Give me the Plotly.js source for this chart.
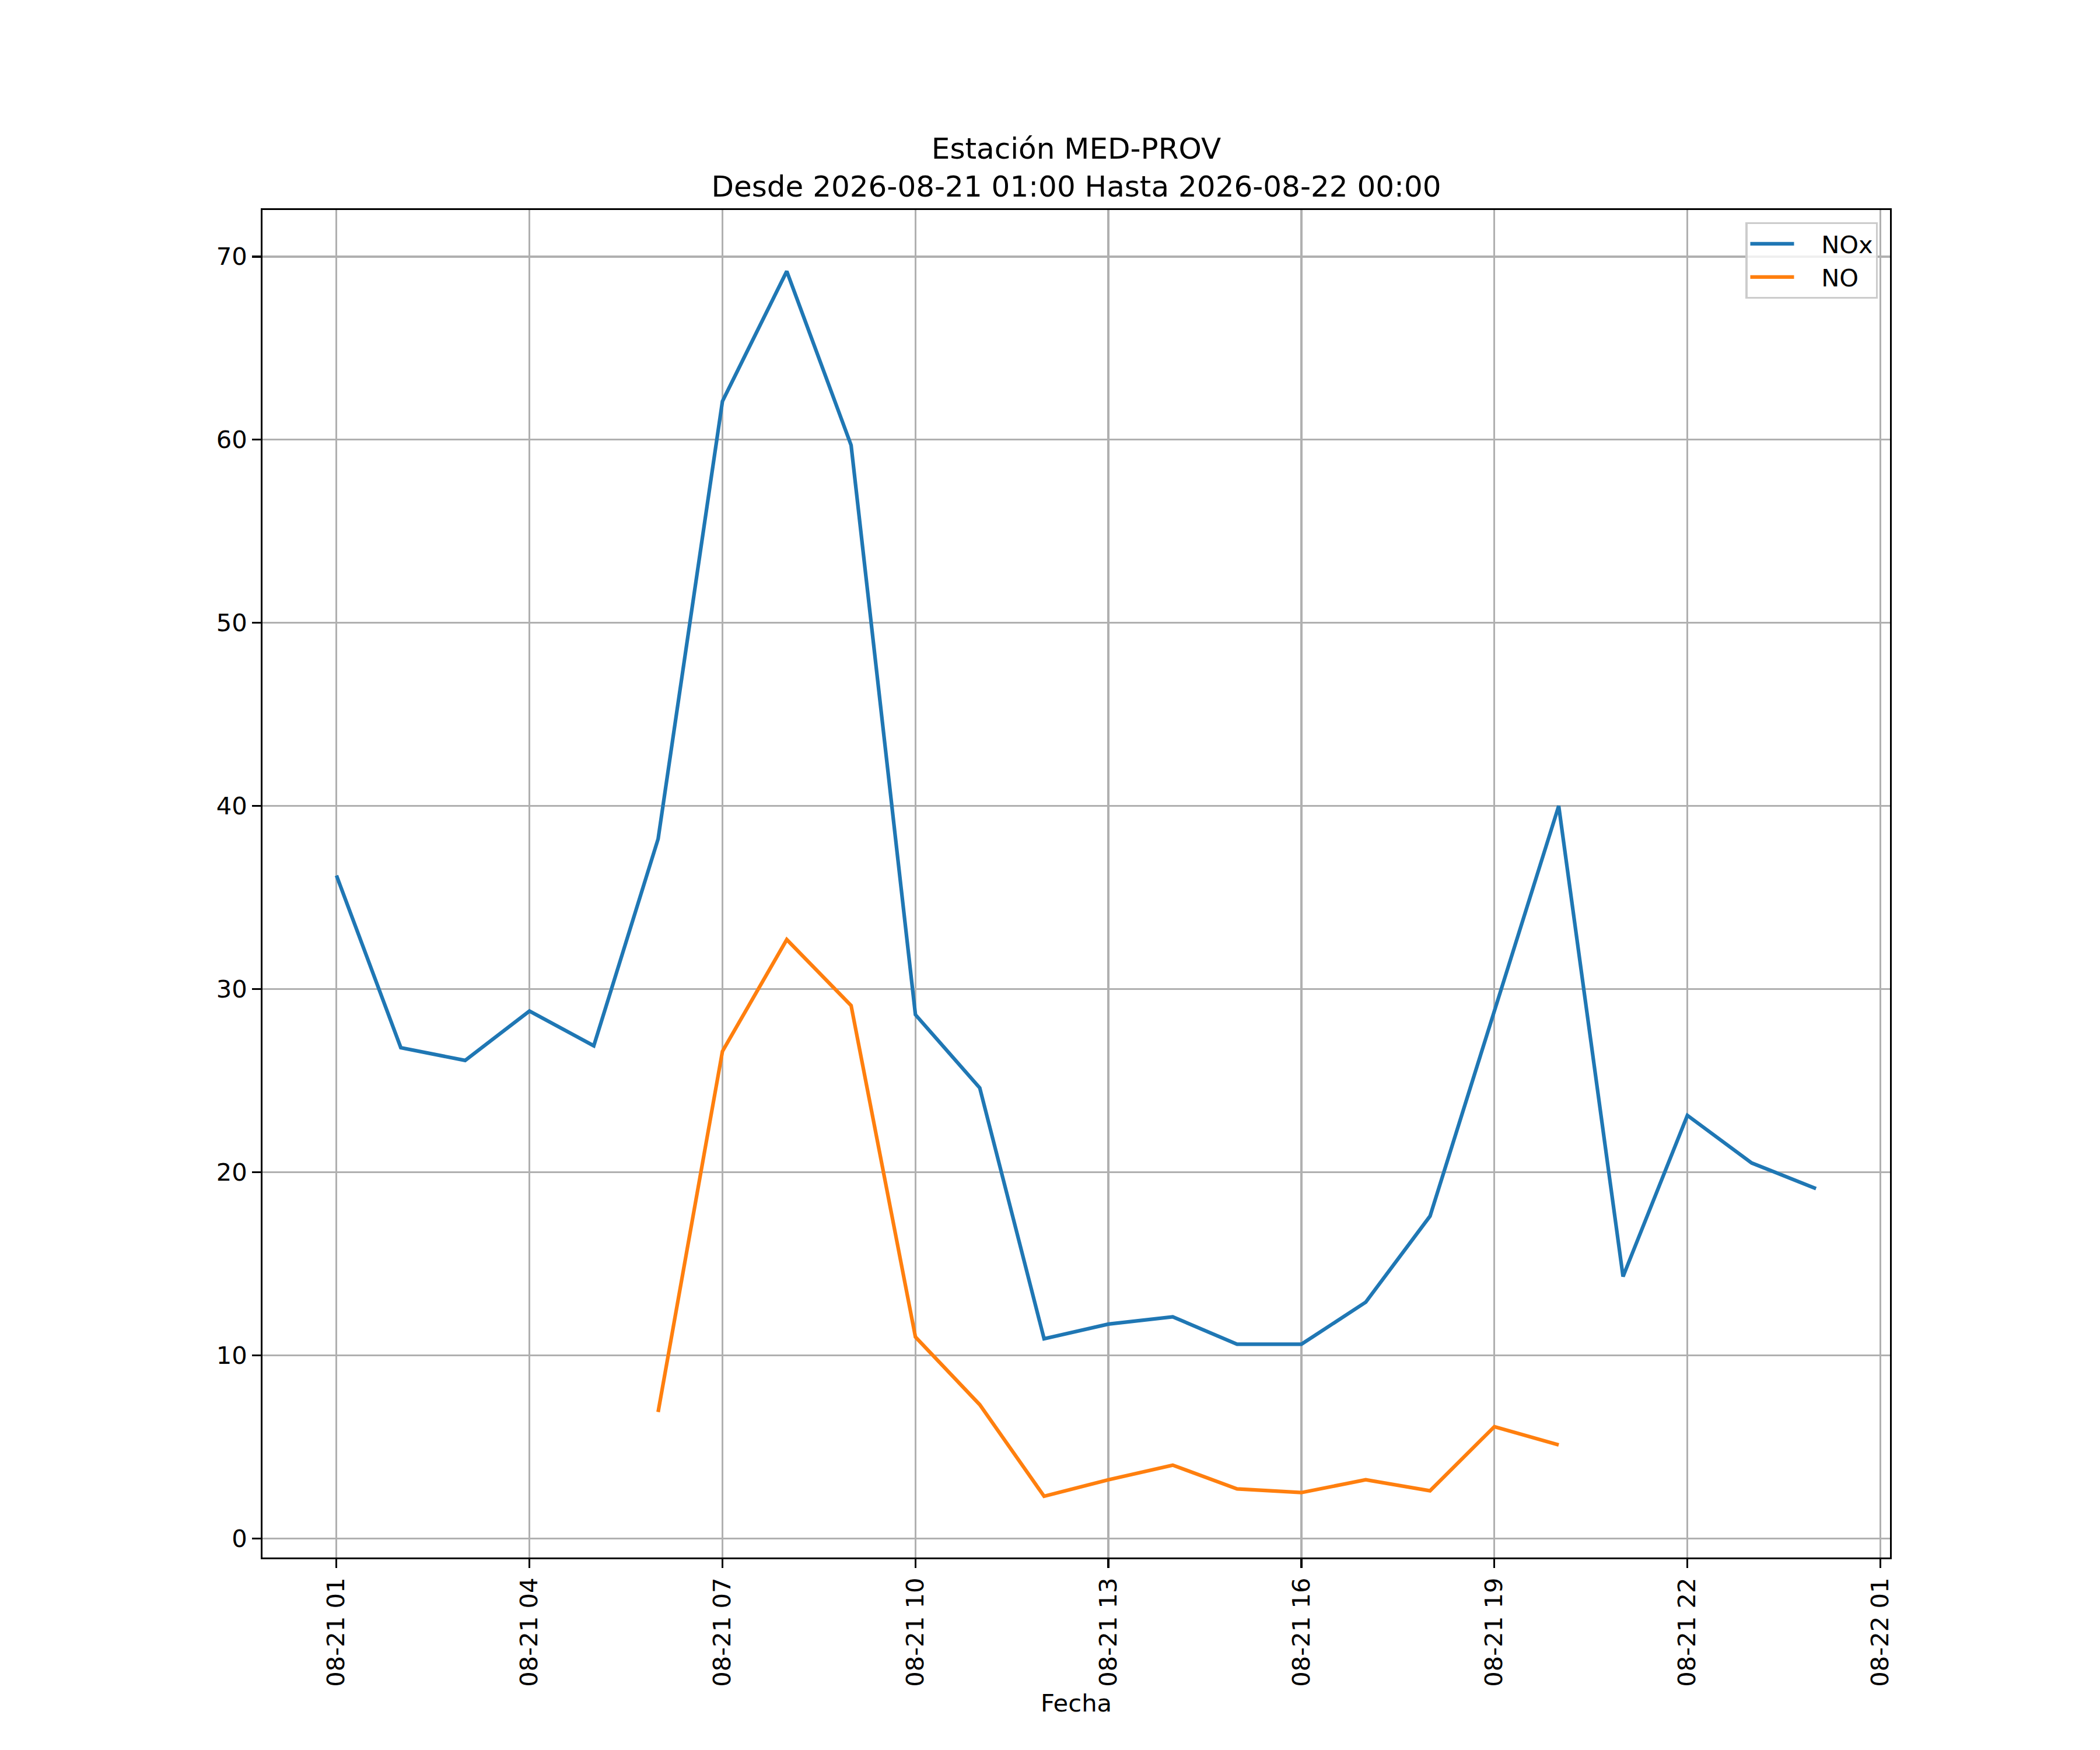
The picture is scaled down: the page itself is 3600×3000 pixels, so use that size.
<!DOCTYPE html>
<html>
<head>
<meta charset="utf-8">
<script src="https://cdn.plot.ly/plotly-3.0.1.min.js"></script>
<style>body{margin:0;padding:0;background:#fff;}</style>
</head>
<body>
<div id="chart" style="width:3600px;height:3000px;"></div>
<script>
var times = [
  "2026-08-21 01:00","2026-08-21 02:00","2026-08-21 03:00","2026-08-21 04:00",
  "2026-08-21 05:00","2026-08-21 06:00","2026-08-21 07:00","2026-08-21 08:00",
  "2026-08-21 09:00","2026-08-21 10:00","2026-08-21 11:00","2026-08-21 12:00",
  "2026-08-21 13:00","2026-08-21 14:00","2026-08-21 15:00","2026-08-21 16:00",
  "2026-08-21 17:00","2026-08-21 18:00","2026-08-21 19:00","2026-08-21 20:00",
  "2026-08-21 21:00","2026-08-21 22:00","2026-08-21 23:00","2026-08-22 00:00"
];
var noxValues = [36.2, 26.8, 26.1, 28.8, 26.9, 38.2, 62.1, 69.2, 59.7, 28.6, 24.6, 10.9,
                 11.7, 12.1, 10.6, 10.6, 12.9, 17.6, 28.8, 40.0, 14.3, 23.1, 20.5, 19.1];
var noValues = [null, null, null, null, null, 6.9, 26.6, 32.7, 29.1, 11.0, 7.3, 2.3,
                3.2, 4.0, 2.7, 2.5, 3.2, 2.6, 6.1, 5.1, null, null, null, null];
var seriesNames = ["NOx", "NO"];
var yTicks = [0, 10, 20, 30, 40, 50, 60, 70];
var titleText = "Estación MED-PROV<br>Desde 2026-08-21 01:00 Hasta 2026-08-22 00:00";
var xLabel = "Fecha";

var PT = 300 / 72;
var font = "DejaVu Sans, sans-serif";

var traces = [
  {x: times, y: noxValues, name: "\u2003" + seriesNames[0], type: "scatter", mode: "lines",
   line: {color: "#1f77b4", width: 1.5 * PT}, connectgaps: false},
  {x: times, y: noValues, name: "\u2003" + seriesNames[1], type: "scatter", mode: "lines",
   line: {color: "#ff7f0e", width: 1.5 * PT}, connectgaps: false}
];

var W = 3600, H = 3000;
var L = 0.125 * W, R = 0.1 * W, T = 0.12 * H, B = 0.11 * H;
var plotW = W - L - R, plotH = H - T - B;

var allVals = noxValues.concat(noValues).filter(function(v){return v !== null;});
var ymin = Math.min.apply(null, allVals), ymax = Math.max.apply(null, allVals);
var ypad = 0.05 * (ymax - ymin);

var t0 = new Date("2026-08-21T01:00:00Z").getTime();
var t1 = new Date("2026-08-22T00:00:00Z").getTime();
var tpad = 0.05 * (t1 - t0);
function fmt(ms){ return new Date(ms).toISOString().replace("T"," ").replace("Z",""); }

var layout = {
  width: W, height: H,
  margin: {l: L, r: R, t: T, b: B, pad: 0},
  paper_bgcolor: "#ffffff", plot_bgcolor: "#ffffff",
  font: {family: font, size: 10 * PT, color: "#000000"},
  showlegend: true,
  title: {
    text: titleText,
    font: {family: font, size: 12 * PT, color: "#000000"},
    x: 0.5, xref: "paper", xanchor: "center",
    y: 1, yref: "paper", yanchor: "bottom",
    pad: {b: 88}
  },
  xaxis: {
    type: "date",
    range: [fmt(t0 - tpad), fmt(t1 + tpad)],
    tick0: "2026-08-21 01:00", dtick: 3 * 3600 * 1000,
    tickformat: "%m-%d %H",
    tickangle: -90,
    ticks: "outside", ticklen: 3.5 * PT, tickwidth: 0.8 * PT, tickcolor: "#000",
    ticklabelstandoff: 3.5 * PT,
    showgrid: true, gridcolor: "#b0b0b0", gridwidth: 0.8 * PT,
    showline: true, linecolor: "#000", linewidth: 0.8 * PT, mirror: true,
    zeroline: false,
    tickfont: {family: font, size: 10 * PT, color: "#000"},
    title: {text: xLabel, font: {family: font, size: 10 * PT, color: "#000"}, standoff: 3.5 * PT},
    automargin: false
  },
  yaxis: {
    range: [ymin - ypad, ymax + ypad],
    tickmode: "array", tickvals: yTicks, ticktext: yTicks.map(String),
    ticks: "outside", ticklen: 3.5 * PT, tickwidth: 0.8 * PT, tickcolor: "#000",
    ticklabelstandoff: 3.5 * PT,
    showgrid: true, gridcolor: "#b0b0b0", gridwidth: 0.8 * PT,
    showline: true, linecolor: "#000", linewidth: 0.8 * PT, mirror: true,
    zeroline: false,
    tickfont: {family: font, size: 10 * PT, color: "#000"},
    automargin: false
  },
  legend: {
    x: 1 - (0.5 * 10 * PT) / plotW, y: 1 - (0.5 * 10 * PT) / plotH,
    xanchor: "right", yanchor: "top",
    bgcolor: "rgba(255,255,255,0.8)", bordercolor: "#cccccc", borderwidth: 0.8 * PT,
    font: {family: font, size: 10 * PT, color: "#000"},
    itemwidth: 75,
    tracegroupgap: 0
  }
};

Plotly.newPlot("chart", traces, layout, {displayModeBar: false, staticPlot: true});
</script>
</body>
</html>
